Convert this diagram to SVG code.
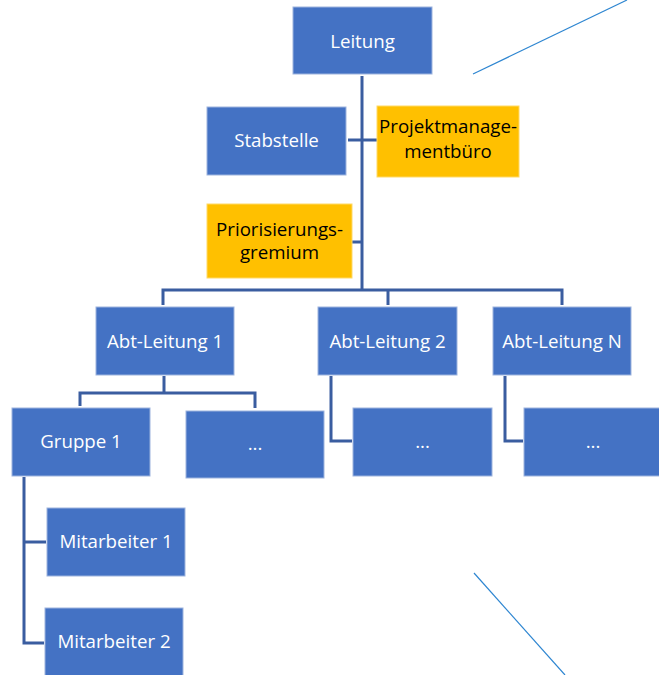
<svg xmlns="http://www.w3.org/2000/svg" width="659" height="675" viewBox="0 0 659 675">
  <style>
    .box { fill: #4472C4; stroke: #9DB4DE; stroke-width: 1; }
    .hl { fill: #FFC000; stroke: #FFD966; stroke-width: 1; }
    .lbl { font-family: "Open Sans", "Liberation Sans", sans-serif; font-size: 18.7px; fill: #FFFFFF; text-anchor: middle; }
    .dark { fill: #000000; }
    .conn { fill: none; stroke: #3A5DA0; stroke-width: 3; }
    .guide { fill: none; stroke: #2E86D1; stroke-width: 1.2; }
  </style>
  <rect width="659" height="675" fill="#FFFFFF"/>

  <g id="connectors">
    <!-- main spine -->
    <path class="conn" d="M362 76 V290"/>
    <path class="conn" d="M348 140 H377"/>
    <path class="conn" d="M352 242 H362"/>
    <!-- department bus -->
    <path class="conn" d="M163 305 V290 H562 V305"/>
    <path class="conn" d="M388 290 V305"/>
    <!-- Abt-Leitung 1 children -->
    <path class="conn" d="M164 376 V393"/>
    <path class="conn" d="M80 406 V393 H255 V408"/>
    <!-- Abt-Leitung 2 / N children -->
    <path class="conn" d="M331 376 V441 H352"/>
    <path class="conn" d="M505 376 V441 H523"/>
    <!-- Gruppe 1 members -->
    <path class="conn" d="M24 477 V643 H44"/>
    <path class="conn" d="M24 542 H46"/>
  </g>

  <g id="guides">
    <path class="guide" d="M473 74 L627 0"/>
    <path class="guide" d="M474 573 L565 675"/>
  </g>

  <g id="leitung">
    <rect class="box" x="293" y="7" width="139" height="67"/>
    <text class="lbl" x="362.5" y="48">Leitung</text>
  </g>
  <g id="stabstelle">
    <rect class="box" x="207" y="107" width="139" height="68"/>
    <text class="lbl" x="276.5" y="147">Stabstelle</text>
  </g>
  <g id="pmo">
    <rect class="hl" x="377" y="106" width="142" height="71"/>
    <text class="lbl dark" x="448" y="133">Projektmanage-</text>
    <text class="lbl dark" x="448" y="158">mentbüro</text>
  </g>
  <g id="priorisierung">
    <rect class="hl" x="207" y="204" width="145" height="74"/>
    <text class="lbl dark" x="279.5" y="236">Priorisierungs-</text>
    <text class="lbl dark" x="279.5" y="259">gremium</text>
  </g>
  <g id="abt1">
    <rect class="box" x="96" y="307" width="138" height="68"/>
    <text class="lbl" x="165" y="348">Abt-Leitung 1</text>
  </g>
  <g id="abt2">
    <rect class="box" x="318" y="307" width="139" height="68"/>
    <text class="lbl" x="387.5" y="348">Abt-Leitung 2</text>
  </g>
  <g id="abtN">
    <rect class="box" x="493" y="307" width="138" height="68"/>
    <text class="lbl" x="562" y="348">Abt-Leitung N</text>
  </g>
  <g id="gruppe1">
    <rect class="box" x="12" y="408" width="138" height="68"/>
    <text class="lbl" x="81" y="448">Gruppe 1</text>
  </g>
  <g id="more1">
    <rect class="box" x="186" y="411" width="138" height="67"/>
    <text class="lbl" x="255" y="450">...</text>
  </g>
  <g id="more2">
    <rect class="box" x="353" y="408" width="139" height="68"/>
    <text class="lbl" x="422.5" y="448">...</text>
  </g>
  <g id="moreN">
    <rect class="box" x="524" y="408" width="139" height="68"/>
    <text class="lbl" x="593" y="448">...</text>
  </g>
  <g id="mitarbeiter1">
    <rect class="box" x="47" y="508" width="138" height="68"/>
    <text class="lbl" x="116" y="548">Mitarbeiter 1</text>
  </g>
  <g id="mitarbeiter2">
    <rect class="box" x="45" y="608" width="138" height="70"/>
    <text class="lbl" x="114" y="648">Mitarbeiter 2</text>
  </g>
</svg>
